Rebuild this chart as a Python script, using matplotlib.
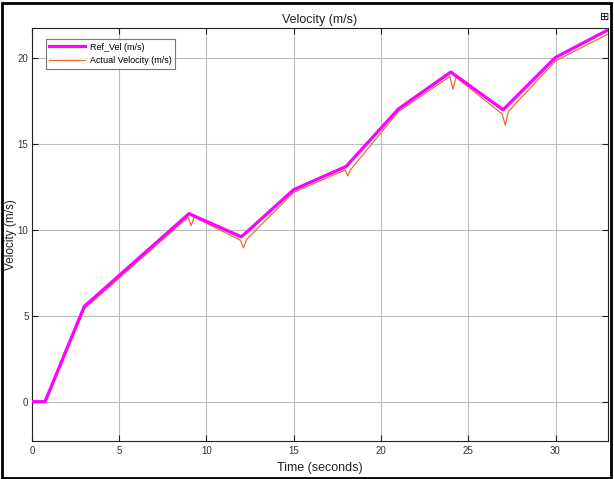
import matplotlib
matplotlib.use('Agg')
import matplotlib.pyplot as plt
from matplotlib.patches import Rectangle

# Reference velocity (piecewise linear set points)
ref_t = [0, 0.75, 3, 9, 12, 15, 18, 21, 24, 27, 30, 33]
ref_v = [0, 0, 5.55, 10.95, 9.6, 12.35, 13.7, 17.05, 19.2, 17.0, 20.05, 21.65]

# Actual velocity (lags slightly, with small dips after slope changes)
act_t = [0, 0.8, 3.0, 8.95, 9.12, 9.3, 11.95, 12.12, 12.3, 15.0, 17.95, 18.1, 18.25,
         21.0, 23.95, 24.12, 24.3, 26.95, 27.12, 27.3, 30.0, 33.0]
act_v = [0, 0, 5.4, 10.75, 10.25, 10.75, 9.4, 8.95, 9.45, 12.2, 13.5, 13.15, 13.5,
         16.9, 18.95, 18.2, 18.9, 16.75, 16.1, 16.9, 19.85, 21.4]

x_ticks = [0, 5, 10, 15, 20, 25, 30]
y_ticks = [0, 5, 10, 15, 20]

plt.rcParams['font.family'] = ['Liberation Sans', 'DejaVu Sans']

fig = plt.figure(figsize=(6.14, 4.79), dpi=100)
ax = fig.add_axes([0.052, 0.079, 0.938, 0.862])

ax.plot(ref_t, ref_v, color='#ff00ff', linewidth=2.3, label='Ref_Vel (m/s)', zorder=3)
ax.plot(act_t, act_v, color='#e8702a', linewidth=0.9, label='Actual Velocity (m/s)', zorder=2)

ax.set_xlim(0, 33)
ax.set_ylim(-2.3, 21.75)
ax.set_xticks(x_ticks)
ax.set_yticks(y_ticks)
ax.tick_params(direction='in', top=True, right=True, labelsize=7, length=4,
               labelcolor='#333333', color='#222222')
ax.tick_params(axis='y', pad=2.5)
ax.grid(True, color='#bdbdbd', linewidth=0.8)
ax.set_axisbelow(True)
for s in ax.spines.values():
    s.set_linewidth(0.8)
    s.set_color('#222222')

ax.set_title('Velocity (m/s)', fontsize=9, pad=4, color='#222222')
ax.set_xlabel('Time (seconds)', fontsize=9, labelpad=4, color='#222222')
ax.set_ylabel('Velocity (m/s)', fontsize=8.5, color='#222222')
ax.yaxis.set_label_coords(-0.026, 0.5)

leg = ax.legend(loc='upper left', bbox_to_anchor=(0.016, 0.985), fontsize=6.5,
                frameon=True, fancybox=False, handlelength=4.0, borderpad=0.4,
                labelspacing=0.5, handletextpad=0.5)
leg.get_frame().set_edgecolor('#555555')
leg.get_frame().set_linewidth(0.8)

# outer frame of the screenshot
fig.patches.append(Rectangle((0.004, 0.003), 0.991, 0.99, transform=fig.transFigure,
                             fill=False, edgecolor='black', linewidth=2.0))
fig.text(0.985, 0.965, '\u229e', fontsize=8, ha='center', va='center', family='DejaVu Sans')

fig.savefig('out.png', dpi=100)
